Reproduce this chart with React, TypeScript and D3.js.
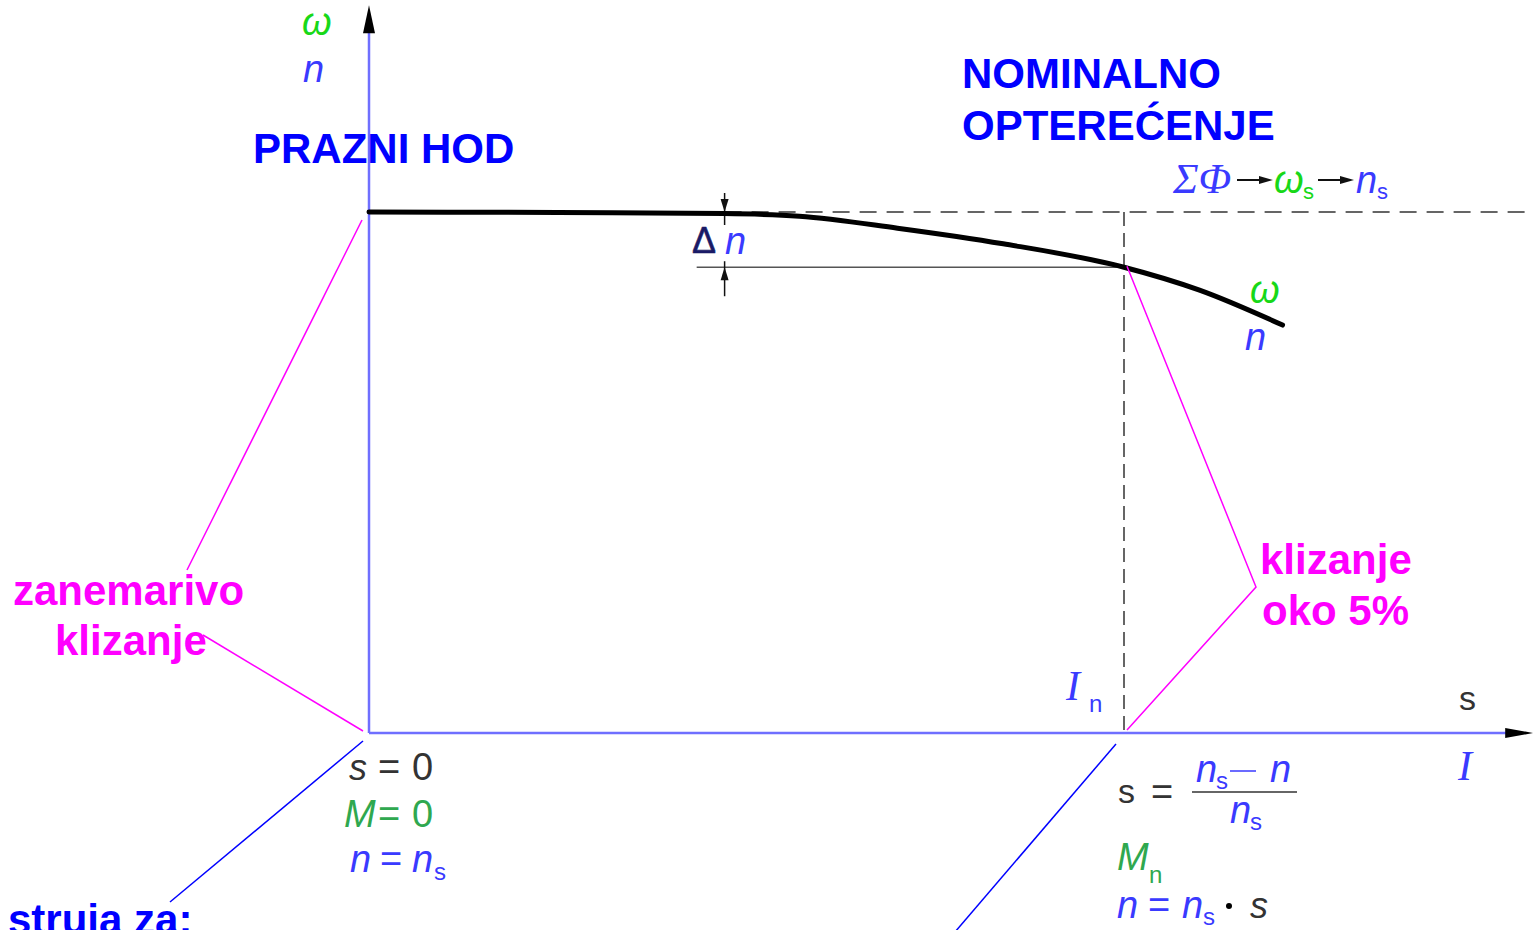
import React from "react";
import * as d3 from "d3";

// ---- data (per-unit current vs per-unit speed) ----
const currentVals = [0, 0.25, 0.47, 0.57, 0.7, 0.84, 1.0, 1.1, 1.21];
const speedVals = [1.0, 0.999, 0.997, 0.992, 0.969, 0.939, 0.894, 0.85, 0.783];
const nominalCurrent = 1.0;
const nominalSpeed = 0.894;
const syncSpeed = 1.0;
const axisMaxI = 1.542;
const axisMaxN = 1.397;
const deltaNAt = 0.471; // current where the Δn dimension is drawn
const deltaNLineStart = 0.434;

const titleLeft = "PRAZNI HOD";
const titleRight = ["NOMINALNO", "OPTEREĆENJE"];
const slipLeft = ["zanemarivo", "klizanje"];
const slipRight = ["klizanje", "oko 5%"];
const currentLabel = "struja za:";

const W = 1533;
const H = 930;
const BOLD = "'Liberation Sans', Arial, sans-serif";
const SANS = "'Liberation Sans', Arial, sans-serif";
const SERIF = "'Liberation Serif', 'Times New Roman', serif";

const BLUE = "#0000ff";
const MAG = "#ff00ff";
const NBLUE = "#3a3aff";
const OMEGA = "#18d818";
const MGREEN = "#2fa84f";
const GRAY = "#333333";
const AXIS = "#6f6fff";

export default function App() {
  const x = d3.scaleLinear().domain([0, 1]).range([369, 1124]);
  const y = d3.scaleLinear().domain([0, 1]).range([733, 212]);

  const pts: [number, number][] = currentVals.map((c, i) => [c, speedVals[i]]);
  const line = d3
    .line<[number, number]>()
    .x((d) => x(d[0]))
    .y((d) => y(d[1]))
    .curve(d3.curveMonotoneX);

  const x0 = x(0);
  const y0 = y(0);
  const xEnd = x(axisMaxI);
  const yTop = y(axisMaxN);
  const xn = x(nominalCurrent);
  const yns = y(syncSpeed);
  const ynn = y(nominalSpeed);
  const xd = x(deltaNAt);

  const it = (
    t: string,
    px: number,
    py: number,
    color: string,
    size = 36,
    family = SANS,
    style = "italic"
  ) => (
    <text x={px} y={py} fill={color} fontSize={size} fontFamily={family} fontStyle={style}>
      {t}
    </text>
  );

  return (
    <svg
      width={W}
      height={H}
      viewBox={`0 0 ${W} ${H}`}
      style={{ position: "absolute", left: 0, top: 0, background: "#fff" }}
    >
      {/* dashed guides */}
      <line x1={xd} y1={yns} x2={xEnd} y2={yns} stroke={GRAY} strokeWidth={1.5} strokeDasharray="17 10" />
      <line x1={xn} y1={yns} x2={xn} y2={y0} stroke={GRAY} strokeWidth={1.5} strokeDasharray="14 7" />

      {/* Δn dimension */}
      <line x1={x(deltaNLineStart)} y1={ynn} x2={xn} y2={ynn} stroke="#555" strokeWidth={1.5} />
      <line x1={xd} y1={yns - 19} x2={xd} y2={yns + 13} stroke="#111" strokeWidth={1.5} />
      <path d={`M${xd},${yns} L${xd - 4},${yns - 13} L${xd + 4},${yns - 13} Z`} fill="#111" />
      <line x1={xd} y1={ynn - 6} x2={xd} y2={ynn + 29} stroke="#111" strokeWidth={1.5} />
      <path d={`M${xd},${ynn} L${xd - 4},${ynn + 13} L${xd + 4},${ynn + 13} Z`} fill="#111" />

      {/* axes */}
      <line x1={x0} y1={y0} x2={x0} y2={yTop + 20} stroke={AXIS} strokeWidth={2.5} />
      <path d={`M${x0},${yTop} L${x0 - 6},${yTop + 28} L${x0 + 6},${yTop + 28} Z`} fill="#000" />
      <line x1={x0} y1={y0} x2={xEnd - 20} y2={y0} stroke={AXIS} strokeWidth={2.5} />
      <path d={`M${xEnd},${y0} L${xEnd - 28},${y0 - 5} L${xEnd - 28},${y0 + 5} Z`} fill="#000" />

      {/* speed curve */}
      <path d={line(pts) ?? ""} fill="none" stroke="#000" strokeWidth={5} strokeLinecap="round" />

      {/* leader lines */}
      <polyline points={`${x0 - 7},${yns + 8} 187,570`} fill="none" stroke={MAG} strokeWidth={1.5} />
      <polyline points={`203,635 ${x0 - 6},${y0 - 2}`} fill="none" stroke={MAG} strokeWidth={1.5} />
      <polyline points={`${xn + 3},${ynn - 1} 1256,587 ${xn + 3},${y0 - 3}`} fill="none" stroke={MAG} strokeWidth={1.5} />
      <polyline points={`${x0 - 6},${y0 + 8} 170,902`} fill="none" stroke={BLUE} strokeWidth={1.5} />
      <polyline points={`${xn - 8},${y0 + 11} 955,932`} fill="none" stroke={BLUE} strokeWidth={1.5} />

      {/* axis symbols */}
      {it("ω", 302, 35, OMEGA, 38)}
      {it("n", 303, 82, NBLUE, 38)}
      {it("s", 1459, 710, GRAY, 34, SANS, "normal")}
      {it("I", 1458, 780, NBLUE, 42, SERIF)}

      {/* bold titles */}
      <text x={253} y={163} fill={BLUE} fontSize={42} fontWeight="bold" fontFamily={BOLD}>{titleLeft}</text>
      <text x={962} y={88} fill={BLUE} fontSize={42} fontWeight="bold" fontFamily={BOLD}>{titleRight[0]}</text>
      <text x={962} y={140} fill={BLUE} fontSize={42} fontWeight="bold" fontFamily={BOLD}>{titleRight[1]}</text>
      <text x={13} y={605} fill={MAG} fontSize={42} fontWeight="bold" fontFamily={BOLD}>{slipLeft[0]}</text>
      <text x={55} y={655} fill={MAG} fontSize={42} fontWeight="bold" fontFamily={BOLD}>{slipLeft[1]}</text>
      <text x={1260} y={574} fill={MAG} fontSize={42} fontWeight="bold" fontFamily={BOLD}>{slipRight[0]}</text>
      <text x={1262} y={625} fill={MAG} fontSize={42} fontWeight="bold" fontFamily={BOLD}>{slipRight[1]}</text>
      <text x={8} y={934} fill={BLUE} fontSize={42} fontWeight="bold" fontFamily={BOLD}>{currentLabel}</text>

      {/* ΣΦ → ωs → ns */}
      {it("ΣΦ", 1173, 193, NBLUE, 43, SERIF)}
      <line x1={1237} y1={180} x2={1262} y2={180} stroke="#111" strokeWidth={2} />
      <path d="M1273,180 L1259,176 L1259,184 Z" fill="#111" />
      {it("ω", 1274, 193, OMEGA, 38)}
      {it("s", 1303, 199, OMEGA, 22, SANS, "normal")}
      <line x1={1318} y1={180} x2={1343} y2={180} stroke="#111" strokeWidth={2} />
      <path d="M1354,180 L1340,176 L1340,184 Z" fill="#111" />
      {it("n", 1356, 193, NBLUE, 38)}
      {it("s", 1377, 199, NBLUE, 22, SANS, "normal")}

      {/* curve labels */}
      {it("ω", 1250, 303, OMEGA, 38)}
      {it("n", 1245, 350, NBLUE, 38)}

      {/* Δn */}
      <text x={692} y={253} fill="#1a1a66" fontSize={36} fontFamily={SANS} stroke="#1a1a66" strokeWidth={0.6}>Δ</text>
      {it("n", 725, 254, NBLUE, 38)}

      {/* In */}
      {it("I", 1066, 700, NBLUE, 42, SERIF)}
      {it("n", 1089, 712, NBLUE, 24, SANS, "normal")}

      {/* left conditions */}
      {it("s", 349, 780, GRAY, 36)}
      {it("=", 378, 780, GRAY, 38, SANS, "normal")}
      {it("0", 412, 780, GRAY, 38, SANS, "normal")}
      {it("M", 344, 827, MGREEN, 38)}
      {it("=", 378, 827, MGREEN, 38, SANS, "normal")}
      {it("0", 412, 827, MGREEN, 38, SANS, "normal")}
      {it("n", 350, 872, NBLUE, 38)}
      {it("=", 380, 872, NBLUE, 38, SANS, "normal")}
      {it("n", 412, 872, NBLUE, 38)}
      {it("s", 434, 880, NBLUE, 24, SANS, "normal")}

      {/* slip formula */}
      {it("s", 1118, 803, GRAY, 34, SANS, "normal")}
      {it("=", 1151, 805, GRAY, 38, SANS, "normal")}
      {it("n", 1196, 782, NBLUE, 38)}
      {it("s", 1216, 789, NBLUE, 24, SANS, "normal")}
      <line x1={1230} y1={771} x2={1256} y2={771} stroke={NBLUE} strokeWidth={1.5} />
      {it("n", 1270, 782, NBLUE, 38)}
      <line x1={1192} y1={792} x2={1297} y2={792} stroke={GRAY} strokeWidth={1.5} />
      {it("n", 1230, 823, NBLUE, 38)}
      {it("s", 1250, 830, NBLUE, 24, SANS, "normal")}

      {it("M", 1117, 870, MGREEN, 38)}
      {it("n", 1149, 883, MGREEN, 24, SANS, "normal")}
      {it("n", 1117, 918, NBLUE, 38)}
      {it("=", 1148, 918, NBLUE, 38, SANS, "normal")}
      {it("n", 1182, 918, NBLUE, 38)}
      {it("s", 1203, 925, NBLUE, 24, SANS, "normal")}
      <circle cx={1229} cy={906} r={3} fill="#000" />
      {it("s", 1250, 918, GRAY, 36)}
    </svg>
  );
}
